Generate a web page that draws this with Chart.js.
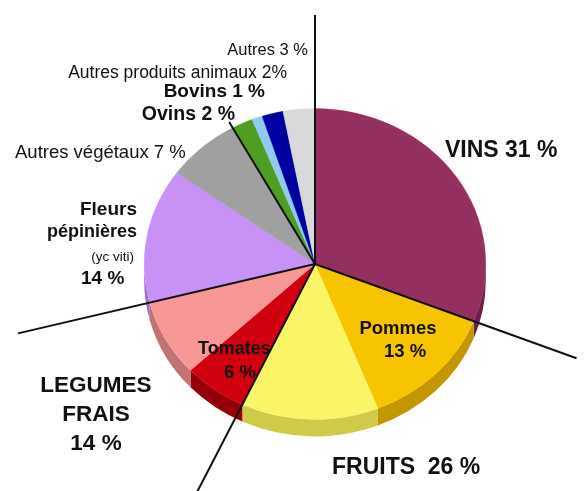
<!DOCTYPE html>
<html lang="fr">
<head>
<meta charset="utf-8">
<title>Répartition de la production agricole</title>
<script src="https://cdn.jsdelivr.net/npm/chart.js@4.4.1/dist/chart.umd.min.js"></script>
<style>
    html, body { margin: 0; padding: 0; background: #fff; }
    #wrap { width: 585px; height: 491px; }
</style>
</head>
<body>
<div id="wrap"><canvas id="pie-chart" width="585" height="491"></canvas></div>
<script>
// --- DONNEES ---
const categories = ['Vins', 'Pommes', 'Autres fruits', 'Tomates', 'Autres légumes frais',
    'Fleurs pépinières (yc viti)', 'Autres végétaux', 'Ovins', 'Bovins', 'Autres produits animaux', 'Autres'];
const values = [31, 13, 13, 6, 8, 14, 7, 2, 1, 2, 3];
const topColors = ['#93305f', '#f7c400', '#f9f566', '#d0000f', '#f79896', '#c791f6', '#a0a0a0', '#4f9e22', '#91c9f0', '#0000a0', '#d9d9d9'];
const sideColors = ['#6e2046', '#c29700', '#cfca48', '#950008', '#c27474', '#9a6cc4', '#7a7a7a', '#3a7818', '#6a9cc0', '#000070', '#aaaaaa'];

// réglages de l'effet 3D
const SQUASH = 0.91;
const DEPTH = 17;

// --- PLUGIN : camembert incliné avec tranche ---
const pie3d = {
    id: 'pie3d',
    beforeDatasetsDraw(chart) {
        const ctx = chart.ctx;
        const arcs = chart.getDatasetMeta(0).data;
        const cx = arcs[0].x, cy = arcs[0].y;
        ctx.save();
        ctx.translate(cx, cy);
        ctx.scale(1, SQUASH);
        ctx.translate(-cx, -cy);
        const d = DEPTH / SQUASH;
        arcs.forEach((arc, i) => {
            const a = Math.max(arc.startAngle, 0);
            const b = Math.min(arc.endAngle, Math.PI);
            if (a >= b) return;
            const r = arc.outerRadius;
            ctx.beginPath();
            ctx.arc(cx, cy + d, r, a, b);
            ctx.arc(cx, cy, r, b, a, true);
            ctx.closePath();
            ctx.fillStyle = sideColors[i];
            ctx.fill();
        });
    },
    afterDatasetsDraw(chart) {
        chart.ctx.restore();
    }
};

// traits noirs qui séparent les grands groupes
const dividers = [
    { idx: 0, edge: 'start', len: 249 },
    { idx: 0, edge: 'end', len: 278 },
    { idx: 2, edge: 'end', len: 262 },
    { idx: 4, edge: 'end', len: 305 },
    { idx: 6, edge: 'end', len: 166 },
];

const separators = {
    id: 'separators',
    afterDraw(chart) {
        const ctx = chart.ctx;
        const arcs = chart.getDatasetMeta(0).data;
        const cx = arcs[0].x, cy = arcs[0].y;
        ctx.save();
        ctx.strokeStyle = '#111';
        ctx.lineWidth = 2;
        dividers.forEach(dv => {
            const arc = arcs[dv.idx];
            const t = dv.edge === 'start' ? arc.startAngle : arc.endAngle;
            let dx = Math.cos(t), dy = Math.sin(t) * SQUASH;
            const n = Math.hypot(dx, dy);
            dx /= n; dy /= n;
            ctx.beginPath();
            ctx.moveTo(cx, cy);
            ctx.lineTo(cx + dx * dv.len, cy + dy * dv.len);
            ctx.stroke();
        });
        ctx.restore();
    }
};

// étiquettes libres autour du camembert
const FONT = '"Liberation Sans", Arial, sans-serif';
const annotations = [
    { text: 'Autres 3 %', x: 308, y: 50, size: 16.5, bold: false, align: 'right' },
    { text: 'Autres produits animaux 2%', x: 287, y: 73, size: 17.5, bold: false, align: 'right' },
    { text: 'Bovins 1 %', x: 265, y: 92, size: 19, bold: true, align: 'right' },
    { text: 'Ovins 2 %', x: 235, y: 115, size: 19.5, bold: true, align: 'right' },
    { text: 'Autres végétaux 7 %', x: 15, y: 153, size: 18.5, bold: false, align: 'left' },
    { text: 'Fleurs', x: 137, y: 210, size: 19, bold: true, align: 'right' },
    { text: 'pépinières', x: 137, y: 232, size: 18, bold: true, align: 'right' },
    { text: '(yc viti)', x: 134, y: 257, size: 13.5, bold: false, align: 'right' },
    { text: '14 %', x: 81, y: 279, size: 19, bold: true, align: 'left' },
    { text: 'VINS 31 %', x: 445, y: 151, size: 23, bold: true, align: 'left' },
    { text: 'Pommes', x: 398, y: 329, size: 18.5, bold: true, align: 'center' },
    { text: '13 %', x: 405, y: 352, size: 18.5, bold: true, align: 'center' },
    { text: 'Tomates', x: 198, y: 349, size: 18, bold: true, align: 'left' },
    { text: '6 %', x: 224, y: 373, size: 18.5, bold: true, align: 'left' },
    { text: 'LEGUMES', x: 96, y: 386, size: 22.5, bold: true, align: 'center' },
    { text: 'FRAIS', x: 96, y: 415, size: 22.5, bold: true, align: 'center' },
    { text: '14 %', x: 96, y: 444, size: 22.5, bold: true, align: 'center' },
    { text: 'FRUITS  26 %', x: 332, y: 468, size: 23, bold: true, align: 'left' },
];

const labelsPlugin = {
    id: 'labelsPlugin',
    afterDraw(chart) {
        const ctx = chart.ctx;
        ctx.save();
        ctx.fillStyle = '#111';
        ctx.textBaseline = 'middle';
        annotations.forEach(a => {
            ctx.font = `${a.bold ? 'bold ' : ''}${a.size}px ${FONT}`;
            ctx.textAlign = a.align;
            ctx.fillText(a.text, a.x, a.y);
        });
        ctx.restore();
    }
};

// --- GRAPHIQUE ---
const ctx = document.getElementById('pie-chart').getContext('2d');
new Chart(ctx, {
    type: 'pie',
    data: {
        labels: categories,
        datasets: [{
            data: values,
            backgroundColor: topColors,
            borderColor: topColors,
            borderWidth: 0.5,
        }]
    },
    options: {
        responsive: false,
        animation: false,
        // centre (315, 264), rayon 171
        layout: { padding: { left: 144, right: 99, top: 93, bottom: 56 } },
        plugins: {
            legend: { display: false },
            tooltip: { enabled: false },
        }
    },
    plugins: [pie3d, separators, labelsPlugin]
});
</script>
</body>
</html>
